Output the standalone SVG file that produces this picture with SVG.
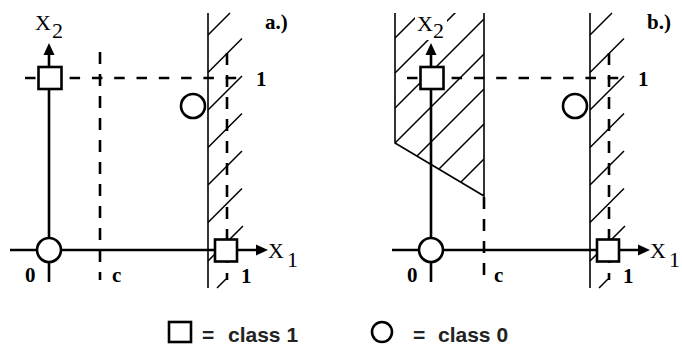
<svg xmlns="http://www.w3.org/2000/svg" width="682" height="345" viewBox="0 0 682 345">
<style>
.ax{stroke:#000;stroke-width:2.6;fill:none}
.dash{stroke:#000;stroke-width:2.6;stroke-dasharray:10.5 11.8;fill:none}
.vdash{stroke:#000;stroke-width:2.6;stroke-dasharray:12 10;fill:none}
.thin{stroke:#000;stroke-width:1.6;fill:none}
.hatch{stroke:#000;stroke-width:1.5;fill:none}
.sym{stroke:#000;stroke-width:2.6;fill:#fff}
.arr{fill:#000}
.lab{font-family:"Liberation Serif",serif;font-size:22px;fill:#000}
.num{font-family:"Liberation Serif",serif;font-size:21px;font-weight:bold;fill:#000}
.leg{font-family:"Liberation Sans",Arial,sans-serif;font-size:21px;font-weight:bold;fill:#222}
</style>
<defs>
<clipPath id="regclip"><polygon points="395,13 484,13 484,196 395,143"/></clipPath>
<g id="common">
 <path class="hatch" d="M208,35 L230,13 M208,72.5 L242,38.5 M208,110 L242,76 M208,147.5 L242,113.5 M208,185 L242,151 M208,222.5 L242,188.5 M208,261 L243,226 M217,288 L226,279"/>
 <line class="thin" x1="208" y1="13" x2="208" y2="288"/>
 <line class="dash" x1="25" y1="78" x2="248" y2="78"/>
 <line class="vdash" x1="227" y1="53" x2="227" y2="280"/>
 <line class="ax" x1="10" y1="250" x2="258" y2="250"/>
 <polygon class="arr" points="268,250 256,244.5 256,255.5"/>
 <line class="ax" x1="49" y1="282" x2="49" y2="54"/>
 <polygon class="arr" points="49,43 43.5,55 54.5,55"/>
 <rect class="sym" x="38.5" y="67" width="23" height="22"/>
 <rect class="sym" x="215" y="239.5" width="22" height="22"/>
 <circle class="sym" cx="49" cy="250" r="12"/>
 <circle class="sym" cx="193" cy="106" r="12"/>
 <text class="lab" x="268" y="258">X</text>
 <text class="lab" x="287" y="267" font-size="21">1</text>
 <text class="num" x="256" y="86">1</text>
 <text class="num" x="241" y="283">1</text>
 <text class="num" x="25" y="282">0</text>
 <text class="num" x="112" y="282">c</text>
</g>
</defs>

<g id="panel-a">
 <line class="vdash" x1="100" y1="52" x2="100" y2="280"/>
 <use href="#common"/>
 <text class="lab" x="35" y="30">X</text>
 <text class="lab" x="52" y="38" font-size="21">2</text>
 <text class="num" x="265" y="29" font-size="22">a.)</text>
</g>

<g id="panel-b">
 <g id="region-b">
  <path class="hatch" clip-path="url(#regclip)" d="M395,38 L484,-51 M395,73 L484,-16 M395,108 L484,19 M395,143 L484,54 M395,178 L484,89 M395,213 L484,124 M395,248 L484,159 M395,283 L484,194"/>
  <path class="thin" d="M395,13 L395,143 L484,196 L484,13"/>
 </g>
 <line class="vdash" x1="484" y1="197" x2="484" y2="280"/>
 <use href="#common" transform="translate(382,0)"/>
 <rect x="415" y="12" width="32" height="28" fill="#fff"/>
 <text class="lab" x="417" y="31">X</text>
 <text class="lab" x="433" y="38" font-size="21">2</text>
 <text class="num" x="647" y="29" font-size="22">b.)</text>
</g>

<g id="legend">
 <rect class="sym" x="169" y="322" width="22" height="20"/>
 <text class="leg" x="202" y="342">=</text>
 <text class="leg" x="228" y="342">class 1</text>
 <circle class="sym" cx="382" cy="332" r="10"/>
 <text class="leg" x="413" y="342">=</text>
 <text class="leg" x="438" y="342">class 0</text>
</g>
</svg>
